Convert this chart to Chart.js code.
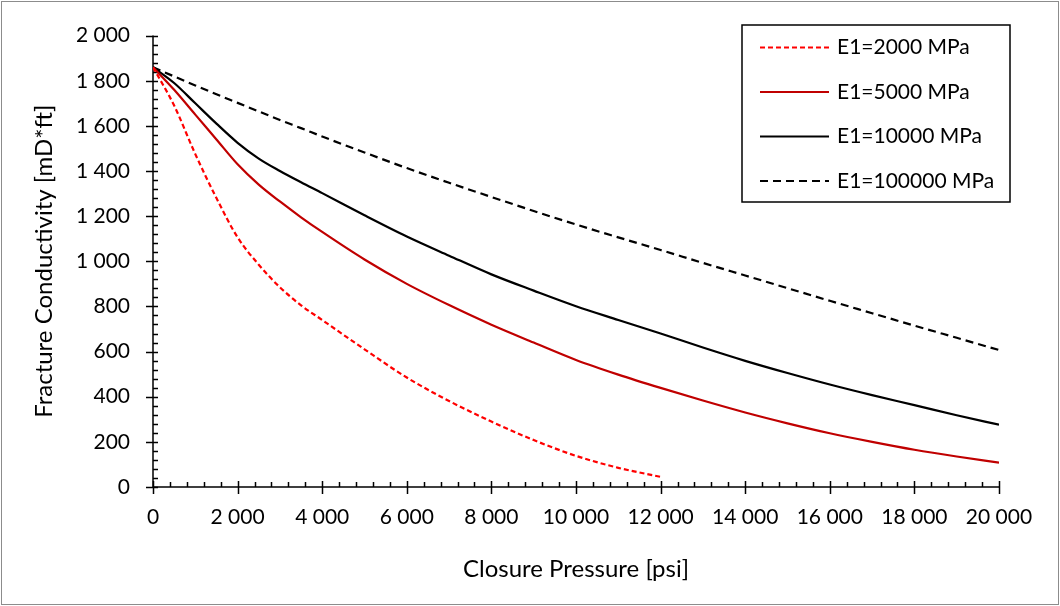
<!DOCTYPE html>
<html>
<head>
<meta charset="utf-8">
<title>Fracture conductivity vs closure pressure</title>
<script src="https://cdn.jsdelivr.net/npm/chart.js@4.4.1/dist/chart.umd.min.js"></script>
<style>
  html, body { margin: 0; padding: 0; background: #fff; }
  #wrap { width: 1060px; height: 606px; }
</style>
</head>
<body>
<div id="wrap"><canvas id="chart" width="1060" height="606"></canvas></div>
<script>
// closure pressure [psi]
const pressure = [0, 500, 1000, 1500, 2000, 2500, 3000, 3500, 4000, 5000, 6000, 7000, 8000, 9000, 10000,
                  11000, 12000, 13000, 14000, 15000, 16000, 17000, 18000, 19000, 20000];
// the 2000 MPa curve stops at 12 000 psi
const pressureShort = pressure.slice(0, 17);

// fracture conductivity [mD*ft]
const cond2000   = [1860, 1690, 1475, 1280, 1106, 985, 885, 805, 740, 610, 485, 381, 290, 208, 138, 85, 45];
const cond5000   = [1860, 1760, 1650, 1540, 1430, 1340, 1265, 1195, 1130, 1008, 900, 806, 719, 640, 563,
                    498, 439, 383, 330, 282, 238, 200, 165, 135, 108];
const cond10000  = [1860, 1790, 1700, 1610, 1525, 1455, 1400, 1350, 1302, 1204, 1110, 1025, 942, 870, 801,
                    740, 680, 618, 559, 505, 454, 407, 363, 318, 276];
const cond100000 = [1860, 1819, 1779, 1740, 1702, 1664, 1626, 1590, 1553, 1482, 1413, 1348, 1285, 1223, 1163,
                    1106, 1050, 993, 937, 881, 825, 770, 715, 661, 607];

const seriesLabels = ['E1=2000 MPa', 'E1=5000 MPa', 'E1=10000 MPa', 'E1=100000 MPa'];

const FONT = 'Lato, "Open Sans", sans-serif';

function pts(xs, ys) {
  return xs.map((x, i) => ({ x: x, y: ys[i] }));
}

// "12 000" style numbers
function spaced(v) {
  return String(v).replace(/\B(?=(\d{3})+(?!\d))/g, ' ');
}

// white page + thin grey frame round the whole picture
const framePlugin = {
  id: 'frame',
  beforeDraw(chart) {
    const ctx = chart.ctx;
    ctx.save();
    ctx.fillStyle = '#fff';
    ctx.fillRect(0, 0, chart.width, chart.height);
    ctx.strokeStyle = '#8c8c8c';
    ctx.lineWidth = 1;
    ctx.strokeRect(1.5, 1.5, chart.width - 3, chart.height - 3);
    ctx.restore();
  }
};

// axis lines with crossing major ticks and inside minor ticks
const axesPlugin = {
  id: 'excelAxes',
  beforeDatasetsDraw(chart) {
    const { ctx, scales: { x, y } } = chart;
    const x0 = x.getPixelForValue(0);
    const y0 = y.getPixelForValue(0);
    ctx.save();
    ctx.strokeStyle = '#000';
    ctx.lineWidth = 1.5;
    ctx.beginPath();
    ctx.moveTo(x0, y.getPixelForValue(2000));
    ctx.lineTo(x0, y0);
    ctx.lineTo(x.getPixelForValue(20000), y0);
    ctx.stroke();

    ctx.beginPath();
    for (let v = 0; v <= 2000; v += 40) {
      const py = Math.round(y.getPixelForValue(v)) + 0.5;
      if (v % 200 === 0) { ctx.moveTo(x0 - 7, py); ctx.lineTo(x0 + 5, py); }
      else { ctx.moveTo(x0, py); ctx.lineTo(x0 + 5, py); }
    }
    for (let v = 0; v <= 20000; v += 400) {
      const px = Math.round(x.getPixelForValue(v)) + 0.5;
      if (v % 2000 === 0) { ctx.moveTo(px, y0 - 6); ctx.lineTo(px, y0 + 7); }
      else { ctx.moveTo(px, y0 - 5); ctx.lineTo(px, y0); }
    }
    ctx.stroke();
    ctx.restore();
  }
};

// boxed legend in the upper right corner
const legendPlugin = {
  id: 'boxLegend',
  afterDraw(chart) {
    const ctx = chart.ctx;
    const left = 742, top = 25, w = 268, h = 177;
    ctx.save();
    ctx.fillStyle = '#fff';
    ctx.fillRect(left, top, w, h);
    ctx.strokeStyle = '#000';
    ctx.lineWidth = 1.5;
    ctx.strokeRect(left, top, w, h);
    ctx.font = '21px ' + FONT;
    ctx.textBaseline = 'middle';
    ctx.fillStyle = '#000';
    chart.data.datasets.forEach((ds, i) => {
      const cy = top + 22.5 + i * 44.5;
      ctx.save();
      ctx.strokeStyle = ds.borderColor;
      ctx.lineWidth = ds.borderWidth;
      ctx.setLineDash(ds.borderDash || []);
      ctx.beginPath();
      ctx.moveTo(760, cy);
      ctx.lineTo(829, cy);
      ctx.stroke();
      ctx.restore();
      ctx.fillText(ds.label, 837, cy);
    });
    ctx.restore();
  }
};

const lineStyle = { pointRadius: 0, borderWidth: 2.2, fill: false, cubicInterpolationMode: 'monotone' };

new Chart(document.getElementById('chart'), {
  type: 'line',
  data: {
    datasets: [
      { ...lineStyle, label: seriesLabels[0], data: pts(pressureShort, cond2000),
        borderColor: '#ff0000', borderDash: [5, 3] },
      { ...lineStyle, label: seriesLabels[1], data: pts(pressure, cond5000),
        borderColor: '#c00000' },
      { ...lineStyle, label: seriesLabels[2], data: pts(pressure, cond10000),
        borderColor: '#000000' },
      { ...lineStyle, label: seriesLabels[3], data: pts(pressure, cond100000),
        borderColor: '#000000', borderDash: [8, 5] }
    ]
  },
  options: {
    responsive: false,
    animation: false,
    layout: { padding: { left: 0, top: 30, right: 61, bottom: 0 } },
    plugins: {
      legend: { display: false },
      tooltip: { enabled: false }
    },
    scales: {
      x: {
        type: 'linear',
        min: 0, max: 20000,
        grid: { display: false, drawTicks: false },
        border: { display: false },
        ticks: { stepSize: 2000, padding: 18, color: '#000', font: { family: FONT, size: 21 },
                 maxRotation: 0, callback: v => spaced(v) },
        title: { display: true, text: 'Closure Pressure [psi]', color: '#000',
                 font: { family: FONT, size: 24 }, padding: { top: 0, bottom: 22 } },
        afterFit: s => { s.height = 119; }
      },
      y: {
        type: 'linear',
        min: 0, max: 2000,
        grid: { display: false, drawTicks: false },
        border: { display: false },
        ticks: { stepSize: 200, padding: 23, color: '#000', font: { family: FONT, size: 21 },
                 callback: v => spaced(v) },
        title: { display: true, text: 'Fracture Conductivity [mD*ft]', color: '#000',
                 font: { family: FONT, size: 24 }, padding: { top: 30, bottom: 0 } },
        afterFit: s => { s.width = 153; }
      }
    }
  },
  plugins: [framePlugin, axesPlugin, legendPlugin]
});
</script>
</body>
</html>
